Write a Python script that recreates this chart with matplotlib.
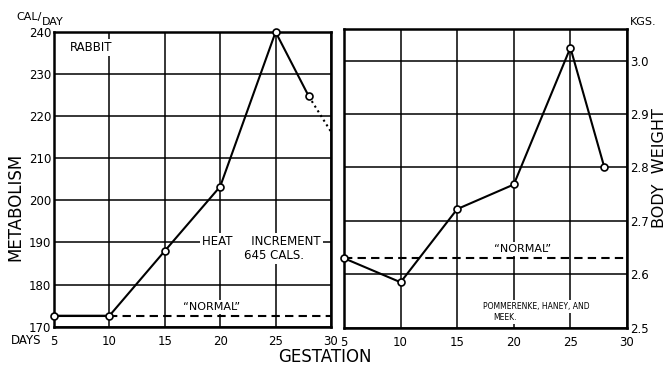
import matplotlib
matplotlib.use("Agg")
import matplotlib.pyplot as plt

# rabbit metabolism during gestation (left) and body weight (right)
days = [5, 10, 15, 20, 25, 28]
metabolism = [172.6, 172.6, 188.0, 203.3, 240.0, 224.7]
extrap_days = [28, 30]
extrap_metab = [224.7, 216.3]
normal_metab = 172.6

weight = [2.63, 2.585, 2.722, 2.768, 3.024, 2.80]
normal_weight = 2.63

day_ticks = [5, 10, 15, 20, 25, 30]
metab_ticks = [170, 180, 190, 200, 210, 220, 230, 240]
weight_ticks = [2.5, 2.6, 2.7, 2.8, 2.9, 3.0]
weight_labels = ["2.5", "2.6", "2.7", "2.8", "2.9", "3.0"]

plt.rcParams['font.family'] = ['Liberation Sans Narrow', 'DejaVu Sans']

W, H = 669, 368
fig = plt.figure(figsize=(W / 100, H / 100), dpi=100)

def px(x, y):
    return x / W, 1 - y / H

ax1 = fig.add_axes([54 / W, 1 - 326.7 / H, 277 / W, 294.7 / H])
ax2 = fig.add_axes([344 / W, 1 - 327.7 / H, 283 / W, 298.7 / H])

for ax in (ax1, ax2):
    for s in ax.spines.values():
        s.set_linewidth(1.8)
    ax.set_xlim(5, 30)
    ax.set_xticks(day_ticks)
    ax.grid(True, color='black', linewidth=1.1)
    ax.set_axisbelow(True)
    ax.tick_params(length=0, labelsize=8.5, pad=6)

# left panel
ax1.set_ylim(170, 240)
ax1.set_yticks(metab_ticks)
ax1.tick_params(axis='y', pad=2)
ax1.plot(days[:2], [normal_metab] * 2, color='black', lw=1.5, zorder=3)
ax1.plot([10, 30], [normal_metab] * 2, color='black', lw=1.5,
         linestyle=(0, (4, 2.5)), zorder=3)
ax1.plot(days, metabolism, color='black', lw=1.5, marker='o', ms=5,
         mfc='white', mec='black', mew=1.2, clip_on=False, zorder=4)
ax1.plot(extrap_days, extrap_metab, color='black', lw=1.5, linestyle=':', zorder=3)

box = dict(facecolor='white', edgecolor='none', pad=1.5)
ax1.text(6.4, 236.4, "RABBIT", fontsize=8.5, va='center', ha='left', bbox=box)
ax1.text(18.4, 190.3, "HEAT     INCREMENT", fontsize=8.5, va='center', ha='left', bbox=box)
ax1.text(24.9, 187.0, "645 CALS.", fontsize=8.5, va='center', ha='center', bbox=box)
ax1.text(19.2, 174.6, "\u201cNORMAL\u201d", fontsize=8, va='center', ha='center', bbox=box)

# right panel
ax2.set_ylim(2.5, 3.059)
ax2.set_yticks(weight_ticks)
ax2.set_yticklabels(weight_labels)
ax2.yaxis.tick_right()
ax2.tick_params(axis='y', pad=2)
ax2.plot([5, 30], [normal_weight] * 2, color='black', lw=1.5,
         linestyle=(0, (4, 2.5)), zorder=3)
ax2.plot(days, weight, color='black', lw=1.5, marker='o', ms=5,
         mfc='white', mec='black', mew=1.2, clip_on=False, zorder=4)
ax2.text(20.8, 2.648, "\u201cNORMAL\u201d", fontsize=8, va='center', ha='center', bbox=box)
ax2.text(17.3, 2.539, "POMMERENKE, HANEY, AND", fontsize=5.5, va='center', ha='left', bbox=box)
ax2.text(18.2, 2.519, "MEEK.", fontsize=5.5, va='center', ha='left', bbox=box)

# outer labels
fig.text(*px(16, 17), "CAL/", fontsize=8, ha='left', va='center')
fig.text(*px(42, 22), "DAY", fontsize=8, ha='left', va='center')
fig.text(*px(630, 22), "KGS.", fontsize=8, ha='left', va='center')
fig.text(*px(15, 207), "METABOLISM", fontsize=12, rotation=90, ha='center', va='center')
fig.text(*px(659, 168), "BODY  WEIGHT", fontsize=11.5, rotation=90, ha='center', va='center')
fig.text(*px(325, 357), "GESTATION", fontsize=12, ha='center', va='center')
fig.text(*px(11, 340), "DAYS", fontsize=8.5, ha='left', va='center')

fig.savefig("out.png", dpi=100)
